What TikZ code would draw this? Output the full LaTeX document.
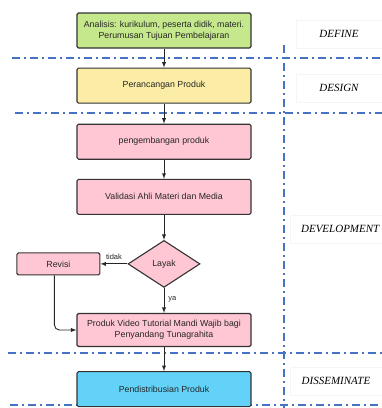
\documentclass[tikz,border=0pt]{standalone}
\usepackage{fontspec}
\setmainfont{Liberation Serif}
\setsansfont{Liberation Sans}
\usepackage{tikz}
\usetikzlibrary{shapes.geometric, arrows, positioning}

\definecolor{definegreen}{RGB}{197,232,140}
\definecolor{designyellow}{RGB}{251,237,166}
\definecolor{devpink}{RGB}{255,199,211}
\definecolor{dissemcyan}{RGB}{98,210,248}
\definecolor{phaseblue}{RGB}{68,114,196}

\begin{document}
\begin{tikzpicture}[
    x=1pt, y=1pt,
    node distance=19pt,
    process/.style={rectangle, rounded corners=1.5pt, draw=black!80, fill=devpink, line width=1.1pt, minimum width=174pt, minimum height=35pt, text centered, align=center, text=black!85, font=\sffamily\fontsize{8.8}{11}\selectfont},
    decision/.style={diamond, draw=black!80, fill=devpink, line width=1.1pt, minimum width=72pt, minimum height=47pt, inner sep=0pt, text=black!85, font=\sffamily\fontsize{8.8}{11}\selectfont},
    phase/.style={rectangle, draw=black!4, fill=white, minimum width=86pt, minimum height=28pt, font=\itshape\fontsize{11}{13}\selectfont},
    answer/.style={font=\sffamily\fontsize{7.5}{9}\selectfont, text=black!85, inner sep=1pt},
    arrow/.style={->, >=latex, line width=0.9pt, black!85},
    phaseline/.style={draw=phaseblue, line width=1.4pt, dash pattern=on 8pt off 4pt on 2pt off 4pt}
]
\useasboundingbox (0,0) rectangle (382,-408);

% phase borders
\draw[phaseline] (284,-45) -- (284,-408);
\draw[phaseline] (12,-58) -- (382,-58);
\draw[phaseline] (15,-113) -- (382,-113);
\draw[phaseline] (8,-353) -- (382,-353);
\draw[phaseline] (10,-405) -- (382,-405);

% phase names
\node[phase] (pdefine) at (339,-34) {DEFINE};
\node[phase] (pdesign) at (339,-88) {DESIGN};
\node[phase, anchor=west, minimum width=100pt] (pdevelop) at (290,-229) {DEVELOPMENT};
\node[phase, minimum width=92pt] (pdissem) at (336,-381) {DISSEMINATE};

% flow
\node[process, fill=definegreen] (analisis) at (164,-30.5) {Analisis: kurikulum, peserta didik, materi.\\Perumusan Tujuan Pembelajaran};
\node[process, fill=designyellow, below=of analisis] (rancang) {Perancangan Produk};
\node[process, below=20pt of rancang] (kembang) {pengembangan produk};
\node[process, below=of kembang] (validasi) {Validasi Ahli Materi dan Media};
\node[decision, below=25pt of validasi] (layak) {Layak};
\node[process, minimum width=83pt, minimum height=22pt, left=27pt of layak] (revisi) {Revisi};
\node[process, minimum height=33pt, below=25pt of layak] (produk) {Produk Video Tutorial Mandi Wajib bagi\\Penyandang Tunagrahita};
\node[process, fill=dissemcyan, below=24pt of produk] (distribusi) {Pendistribusian Produk};

\draw[arrow] (analisis) -- (rancang);
\draw[arrow] (rancang) -- (kembang);
\draw[arrow] (kembang) -- (validasi);
\draw[arrow] (validasi) -- (layak);
\draw[arrow] (layak) -- node[answer, pos=0.5, above=3pt] {tidak} (revisi);
\draw[arrow] (layak) -- node[answer, pos=0.45, right=3pt] {ya} (produk);
\draw[arrow, rounded corners=5pt] ([xshift=-4pt]revisi.south) |- (produk.west);
\draw[arrow] (produk) -- (distribusi);

\end{tikzpicture}
\end{document}
